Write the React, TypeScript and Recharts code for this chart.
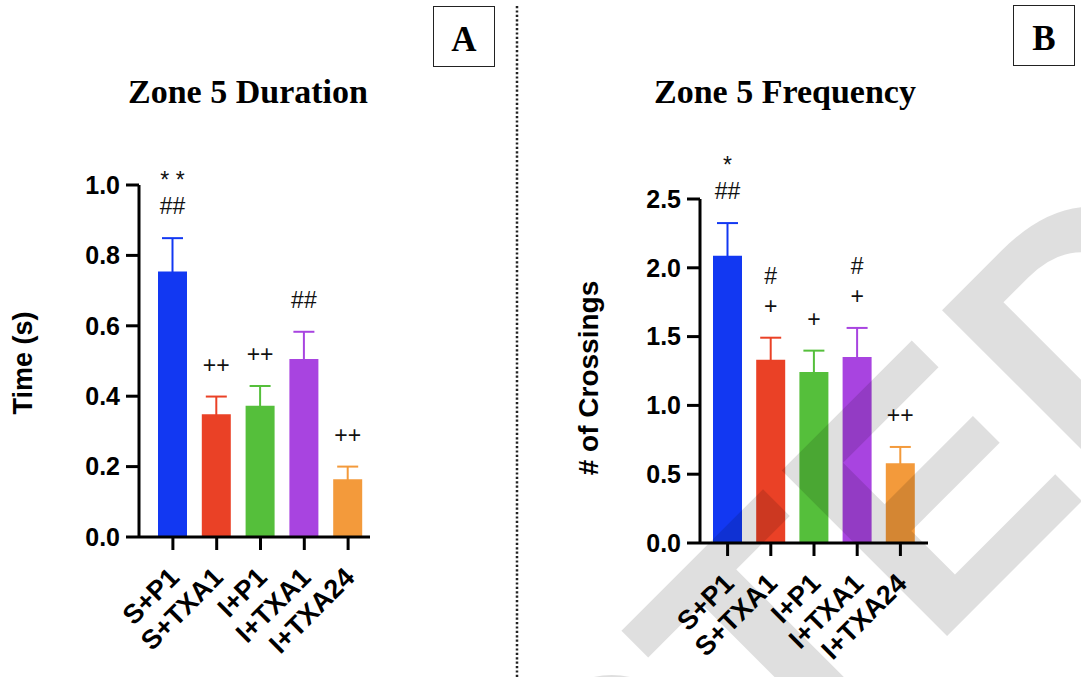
import React from 'react';
import { BarChart, Bar, XAxis, YAxis, Cell, LabelList } from 'recharts';

const CATEGORIES = ['S+P1', 'S+TXA1', 'I+P1', 'I+TXA1', 'I+TXA24'];
const DURATION_MEAN = [0.754, 0.349, 0.373, 0.506, 0.164];
const DURATION_SEM = [0.095, 0.05, 0.056, 0.077, 0.036];
const FREQ_MEAN = [2.088, 1.332, 1.243, 1.352, 0.579];
const FREQ_SEM = [0.237, 0.16, 0.155, 0.211, 0.119];
const DURATION_MARKS = [['##', '* *'], ['++'], ['++'], ['##'], ['++']];
const FREQ_MARKS = [['##', '*'], ['+', '#'], ['+'], ['+', '#'], ['++']];
const DURATION_TICKS = [0, 0.2, 0.4, 0.6, 0.8, 1.0];
const FREQ_TICKS = [0, 0.5, 1.0, 1.5, 2.0, 2.5];
const COLORS = ['#1238f2', '#ea4126', '#55bf3b', '#a844e0', '#f39a3b'];

const SANS = 'Liberation Sans, Arial, sans-serif';
const SERIF = 'Liberation Serif, Times New Roman, serif';

const durationData = CATEGORIES.map((name, i) => ({ name, mean: DURATION_MEAN[i], sem: DURATION_SEM[i] }));
const freqData = CATEGORIES.map((name, i) => ({ name, mean: FREQ_MEAN[i], sem: FREQ_SEM[i] }));

const idxOf = (p: any) => {
  if (p && p.payload && p.payload.name) return CATEGORIES.indexOf(p.payload.name);
  return p.index ?? 0;
};

const Whisker = (props: any) => {
  const { x, y, width, height } = props;
  const i = idxOf(props);
  const cx = x + width / 2;
  const c = COLORS[i];
  return (
    <g>
      <line x1={cx} x2={cx} y1={y + height + 2} y2={y} stroke={c} strokeWidth={2} />
      <line x1={cx - 10.5} x2={cx + 10.5} y1={y} y2={y} stroke={c} strokeWidth={2} />
    </g>
  );
};

const makeMarks = (marks: string[][]) => (props: any) => {
  const { x, y, width, value } = props;
  const i = CATEGORIES.indexOf(value);
  const list = marks[i] || [];
  const cx = x + width / 2;
  return (
    <g>
      {list.map((m, k) => (
        <text
          key={k}
          x={cx}
          y={y - 32 - k * 30 + (m.includes('*') ? 4 : 0)}
          textAnchor="middle"
          dominantBaseline="central"
          fontFamily={SANS}
          fontSize={23}
          fill="#111"
        >
          {m}
        </text>
      ))}
    </g>
  );
};

const XTick = (props: any) => {
  const { x, y, payload } = props;
  return (
    <text
      x={0}
      y={0}
      transform={`translate(${x + 8},${y + 27}) rotate(-45)`}
      textAnchor="end"
      fontFamily={SANS}
      fontWeight="bold"
      fontSize={27}
      fill="#000"
    >
      {payload.value}
    </text>
  );
};

type PanelProps = {
  data: any[];
  ticks: number[];
  marks: string[][];
  width: number;
  height: number;
  margin: any;
  yWidth: number;
  xHeight: number;
  padding: any;
  label: string;
  labelX: number;
  labelDy: number;
  labelSize: number;
};

const Panel = (p: PanelProps) => (
  <BarChart width={p.width} height={p.height} data={p.data} margin={p.margin} barSize={29}>
    <XAxis
      dataKey="name"
      height={p.xHeight}
      padding={p.padding}
      axisLine={{ stroke: '#000', strokeWidth: 3 }}
      tickLine={{ stroke: '#000', strokeWidth: 3 }}
      tickSize={13}
      interval={0}
      tick={<XTick />}
    />
    <YAxis
      width={p.yWidth}
      domain={[0, p.ticks[p.ticks.length - 1]]}
      ticks={p.ticks}
      interval={0}
      tickFormatter={(v: number) => v.toFixed(1)}
      axisLine={{ stroke: '#000', strokeWidth: 3 }}
      tickLine={{ stroke: '#000', strokeWidth: 3 }}
      tickSize={13}
      tickMargin={6}
      tick={{ fontFamily: SANS, fontWeight: 'bold', fontSize: 25, fill: '#000' }}
      label={{
        content: (lp: any) => {
          const vb = lp.viewBox || {};
          const cy = (vb.y ?? 0) + (vb.height ?? 0) / 2 + p.labelDy;
          return (
            <text
              x={p.labelX}
              y={cy}
              transform={`rotate(-90, ${p.labelX}, ${cy})`}
              textAnchor="middle"
              dominantBaseline="central"
              fontFamily={SANS}
              fontWeight="bold"
              fontSize={p.labelSize}
              fill="#000"
            >
              {p.label}
            </text>
          );
        },
      }}
    />
    <Bar dataKey="mean" stackId="s" isAnimationActive={false}>
      {p.data.map((d, i) => (
        <Cell key={d.name} fill={COLORS[i]} />
      ))}
    </Bar>
    <Bar dataKey="sem" stackId="s" isAnimationActive={false} shape={<Whisker />}>
      <LabelList dataKey="name" content={makeMarks(p.marks)} />
    </Bar>
  </BarChart>
);

const Box = ({ x, y, letter }: { x: number; y: number; letter: string }) => (
  <div
    style={{
      position: 'absolute',
      left: x,
      top: y,
      width: 60,
      height: 59,
      border: '1.5px solid #222',
      boxSizing: 'content-box',
    }}
  >
    <svg width={60} height={59} style={{ position: 'absolute', left: 0, top: 0 }}>
      <text x={30} y={44} textAnchor="middle" fontFamily={SERIF} fontWeight="bold" fontSize={35} fill="#000">
        {letter}
      </text>
    </svg>
  </div>
);

export default function App() {
  return (
    <div
      style={{
        position: 'absolute',
        left: 0,
        top: 0,
        width: 1081,
        height: 677,
        background: '#fff',
        overflow: 'hidden',
      }}
    >
      <div style={{ position: 'absolute', left: 0, top: 0 }}>
        <Panel
          data={durationData}
          ticks={DURATION_TICKS}
          marks={DURATION_MARKS}
          width={517}
          height={677}
          margin={{ top: 185, right: 147, bottom: 10, left: 0 }}
          yWidth={139}
          xHeight={130}
          padding={{ left: 12, right: 0 }}
          label="Time (s)"
          labelX={23}
          labelDy={2}
          labelSize={27}
        />
      </div>
      <div style={{ position: 'absolute', left: 517, top: 0 }}>
        <Panel
          data={freqData}
          ticks={FREQ_TICKS}
          marks={FREQ_MARKS}
          width={564}
          height={677}
          margin={{ top: 199, right: 153, bottom: 10, left: 0 }}
          yWidth={183}
          xHeight={124}
          padding={{ left: 6, right: 6 }}
          label="# of Crossings"
          labelX={71}
          labelDy={7}
          labelSize={28}
        />
      </div>
      <svg width={1081} height={677} style={{ position: 'absolute', left: 0, top: 0, pointerEvents: 'none' }}>
        <text x={248} y={103} textAnchor="middle" fontFamily={SERIF} fontWeight="bold" fontSize={34} fill="#000">
          Zone 5 Duration
        </text>
        <text x={785} y={103} textAnchor="middle" fontFamily={SERIF} fontWeight="bold" fontSize={34} fill="#000">
          Zone 5 Frequency
        </text>
        <line x1={517} x2={517} y1={6} y2={677} stroke="#222" strokeWidth={2.5} strokeDasharray="2.2 2.2" />
        <text
          x={0}
          y={0}
          transform="translate(1265,318) rotate(-45)"
          textAnchor="end"
          fontFamily={SANS}
          fontWeight="bold"
          fontSize={340}
          fill="#000"
          opacity={0.12}
        >
          RETRACTED
        </text>
      </svg>
      <Box x={433} y={6} letter="A" />
      <Box x={1013} y={5} letter="B" />
    </div>
  );
}
